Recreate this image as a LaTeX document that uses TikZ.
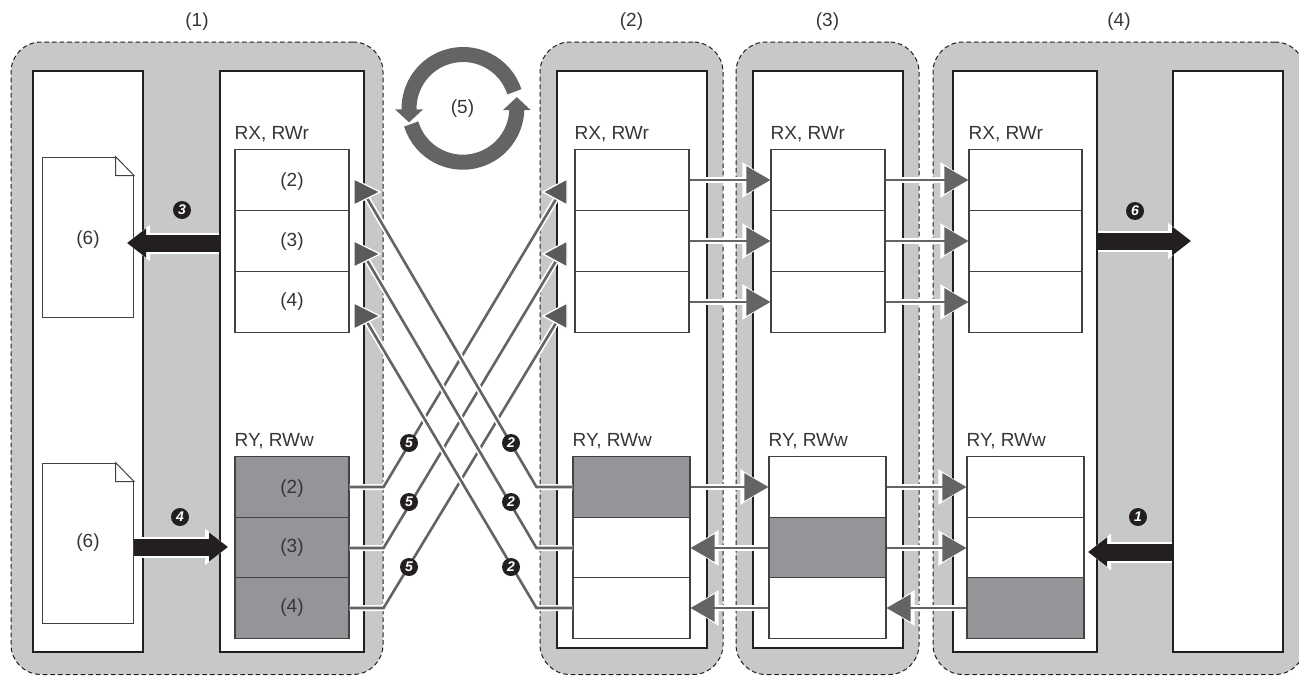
\documentclass[tikz,border=0pt]{standalone}
\usepackage{fontspec}
\setmainfont{Liberation Sans}
\usetikzlibrary{arrows.meta,positioning}
\definecolor{zonegray}{HTML}{C7C8CA}
\definecolor{cellgray}{HTML}{939598}
\definecolor{wiregray}{HTML}{636466}
\definecolor{inkblack}{HTML}{231F20}
\tikzset{
  zone/.style={draw=inkblack, fill=zonegray, line width=1pt, dash pattern=on 4.6pt off 3pt, rounded corners=30pt, minimum height=632.5pt, inner sep=0pt},
  panel/.style={draw=inkblack, fill=white, line width=1.6pt, inner sep=0pt},
  plaincell/.style={draw=inkblack!85, fill=white, line width=1.1pt, minimum height=61pt, inner sep=0pt, text depth=2pt},
  darkcell/.style={plaincell, fill=cellgray},
  docbox/.style={draw=inkblack!85, fill=white, line width=1pt, minimum width=91pt, minimum height=160pt, inner sep=0pt, text depth=2pt},
  tag/.style={anchor=base west, inner sep=0pt},
  wire/.style={draw=wiregray, line width=2.6pt, preaction={draw=white, line width=6pt}},
  flow/.style={draw=wiregray, line width=2.6pt, -{Triangle[length=24pt,width=27pt]},
    preaction={draw=white, line width=6pt, -{Triangle[length=28pt,width=34pt]}}},
  crosshead/.style={fill=wiregray!90!black, draw=white, line width=1.3pt, line join=miter},
  bigflow/.style={draw=inkblack, line width=17pt, -{Triangle[length=19pt,width=28pt]},
    preaction={draw=white, line width=21pt, -{Triangle[length=23pt,width=35pt]}}},
  ring/.style={draw=wiregray, line width=15pt, -{Triangle[length=13pt,width=27pt]}},
  badge/.style={circle, fill=inkblack, text=white, minimum size=18pt, inner sep=0pt, font=\fontsize{14}{14}\selectfont\bfseries\itshape},
}
\begin{document}
\begin{tikzpicture}[x=1pt, y=-1pt, font=\fontsize{19}{21}\selectfont, text=inkblack!90]
  \useasboundingbox (0,0) rectangle (1299,675);
  \node[zone, minimum width=372pt] (z1) at (197,358.25) {};
  \node[zone, minimum width=183pt] (z2) at (631.5,358.25) {};
  \node[zone, minimum width=183pt] (z3) at (827.5,358.25) {};
  \node[zone, minimum width=372pt] (z4) at (1119,358.25) {};
  \foreach \n/\t in {1/(1),2/(2),3/(3),4/(4)}
    \node[above=11pt of z\n, inner sep=0pt] (title\n) {\t};

  \node[panel, minimum width=110pt, minimum height=581pt] (p1a) at (88,361.5) {};
  \node[panel, minimum width=144pt, minimum height=581pt] (p1b) at (292,361.5) {};
  \node[panel, minimum width=150pt, minimum height=577pt] (p2) at (632,359.5) {};
  \node[panel, minimum width=150pt, minimum height=577pt] (p3) at (828,359.5) {};
  \node[panel, minimum width=144pt, minimum height=581pt] (p4a) at (1025,361.5) {};
  \node[panel, minimum width=110pt, minimum height=581pt] (p4b) at (1228,361.5) {};

  \foreach \n/\y/\h in {1/237/17,2/543/11} {
    \node[docbox, text height=\h pt] (doc\n) at (88,\y) {(6)};
    \fill[white] ([xshift=-18.5pt]doc\n.north east) -- ++(19.5,0) -- ++(0,19.5) -- cycle;
    \draw[draw=inkblack!85, line width=1pt] ([xshift=-18.5pt]doc\n.north east) -- ++(18.5,19) -- ++(-18.5,0) -- cycle;
  }

  \foreach \r/\t/\y/\h in {1/(2)/180/15,2/(3)/241/13,3/(4)/302/11}
    \node[plaincell, minimum width=114pt, text height=\h pt] (g1x\r) at (292,\y) {\t};
  \foreach \r/\t/\y/\h in {1/(2)/487/15,2/(3)/548/11,3/(4)/608/11}
    \node[darkcell, minimum width=114pt, text height=\h pt] (g1y\r) at (292,\y) {\t};
  \foreach \g/\xa/\wa/\xb/\wb/\fa/\fb/\fc in {
    2/632/114/631.5/117/darkcell/plaincell/plaincell,
    3/828/114/827.5/117/plaincell/darkcell/plaincell,
    4/1025.5/113/1025.5/117/plaincell/plaincell/darkcell} {
    \foreach \r/\y in {1/180,2/241,3/302}
      \node[plaincell, minimum width=\wa pt] (g\g x\r) at (\xa,\y) {};
    \node[\fa, minimum width=\wb pt] (g\g y1) at (\xb,487) {};
    \node[\fb, minimum width=\wb pt] (g\g y2) at (\xb,548) {};
    \node[\fc, minimum width=\wb pt] (g\g y3) at (\xb,608) {};
  }
  \foreach \g in {1,2,3,4} {
    \node[tag] (rx\g) at ([yshift=9pt]g\g x1.north west) {RX, RWr};
    \node[tag] (ry\g) at ([yshift=9pt]g\g y1.north west) {RY, RWw};
  }

  \foreach \r/\y in {1/192,2/254,3/316} {
    \coordinate (tl\r) at (567,\y);
    \draw[wire] (g1y\r.east) -- ++(34,0) -- (556,\y+7);
  }
  \foreach \r/\y in {1/192,2/254,3/316} {
    \coordinate (tr\r) at (354,\y);
    \draw[wire] (g2y\r.west) -- ++(-36,0) -- (367,\y+6);
  }
  \foreach \r in {1,2,3} {
    \filldraw[crosshead] (tr\r) ++(0,-13) -- ++(26,13) -- ++(-26,13) -- cycle;
    \filldraw[crosshead] (tl\r) ++(0,-13) -- ++(-24,13) -- ++(24,13) -- cycle;
    \draw[flow] (g2x\r.east) -- (g3x\r.west);
    \draw[flow] (g3x\r.east) -- (g4x\r.west);
  }
  \draw[flow] (g2y1.east) -- (g3y1.west);
  \draw[flow] (g3y1.east) -- (g4y1.west);
  \draw[flow] (g3y2.east) -- (g4y2.west);
  \draw[flow] (g3y2.west) -- (g2y2.east);
  \draw[flow] (g3y3.west) -- (g2y3.east);
  \draw[flow] (g4y3.west) -- (g3y3.east);

  \coordinate (in3) at (127,243);
  \coordinate (in4) at (228,547);
  \coordinate (in1) at (1088,552);
  \coordinate (in6) at (1191,241);
  \draw[bigflow] (p1b.west |- in3) -- (in3);
  \draw[bigflow] (doc2.east |- in4) -- (in4);
  \draw[bigflow] (p4b.west |- in1) -- (in1);
  \draw[bigflow] (p4a.east |- in6) -- (in6);

  \draw[ring] (514.4,91.8) arc[start angle=18, end angle=181, radius=54pt] -- ++(0,13);
  \draw[ring] (411.2,124) arc[start angle=197, end angle=358, radius=54pt] -- ++(0,-13);
  \node[inner sep=0pt] (cycle) at (462.5,109) {(5)};

  \node[badge] (step3) at (182,210) {3};
  \node[badge] (step4) at (180,517) {4};
  \node[badge] (step1) at (1138,517) {1};
  \node[badge] (step6) at (1135,211) {6};
  \foreach \r/\y in {1/443,2/502,3/567} {
    \node[badge] (stepa\r) at (409,\y) {5};
    \node[badge] (stepb\r) at (511,\y) {2};
  }
\end{tikzpicture}
\end{document}
